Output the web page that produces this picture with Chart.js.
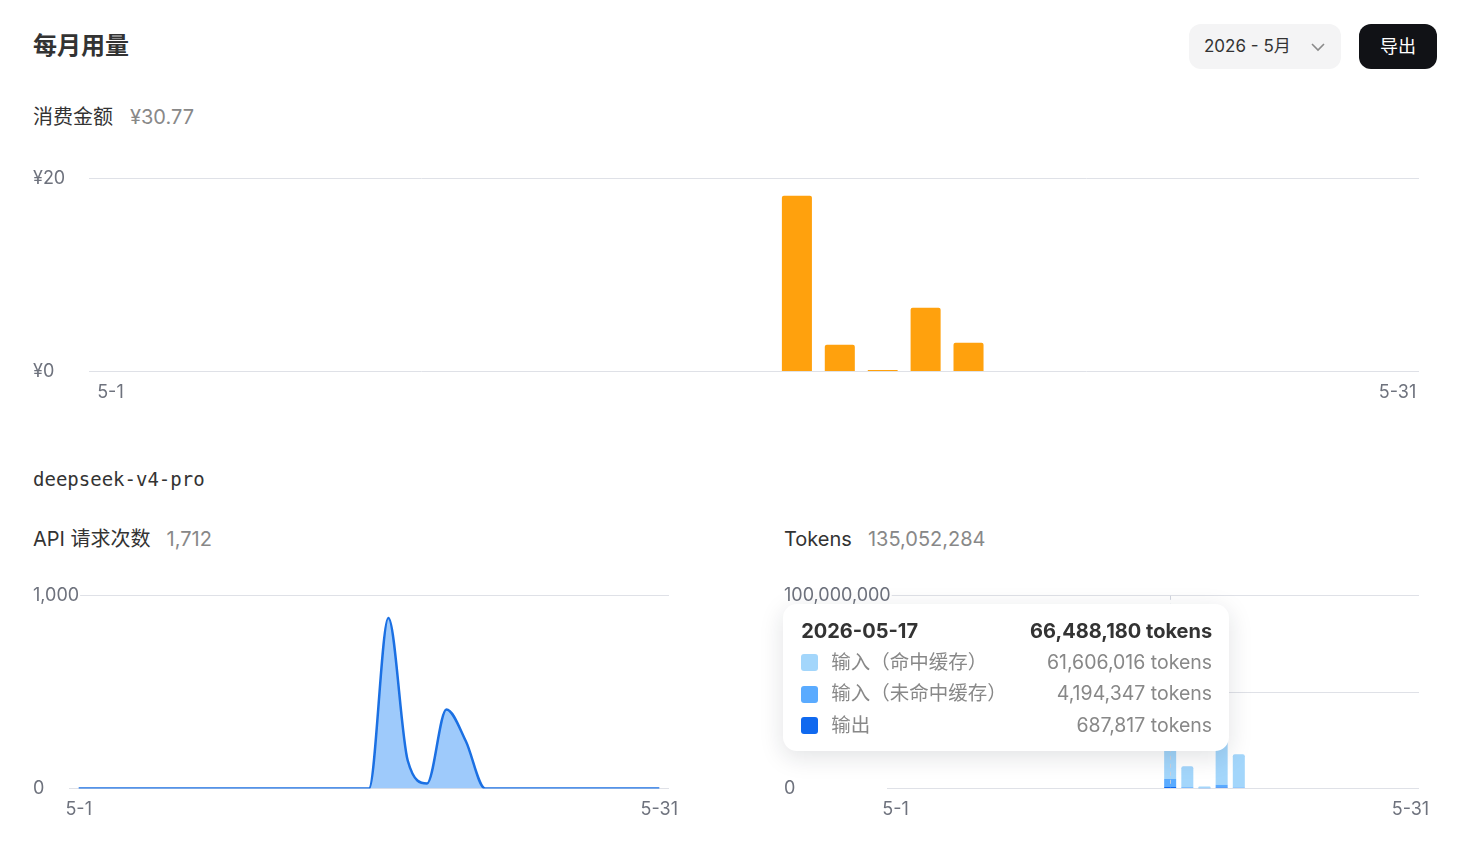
<!DOCTYPE html>
<html>
<head>
<meta charset="utf-8">
<script src="https://cdn.jsdelivr.net/npm/chart.js@4.4.0/dist/chart.umd.min.js"></script>
<style>
  body{margin:0;background:#fff;font-family:Inter,"Noto Sans CJK SC",sans-serif;color:#333;width:1459px;height:842px;overflow:hidden;position:relative}
  .abs{position:absolute;white-space:nowrap}
  .box{position:absolute}
  #tip{position:absolute;display:none;width:446px;box-sizing:border-box;padding:12px 17px 10px 18px;background:#fff;border-radius:14px;box-shadow:0 6px 24px rgba(20,30,50,0.13);z-index:10;font-family:Inter,"Noto Sans CJK SC",sans-serif}
  #tip .t{display:flex;justify-content:space-between;font-size:20px;font-weight:700;color:#333;line-height:31px}
  #tip .r{display:flex;justify-content:space-between;align-items:center;font-size:19.5px;color:#888;line-height:31.5px;height:31.5px}
  #tip .sw{display:inline-block;width:17px;height:17px;border-radius:3px;margin-right:13px;vertical-align:middle}
  #tip .lab{display:flex;align-items:center}
</style>
</head>
<body>
<div class="abs" style="left:33px;top:31px;font-size:24px;font-weight:700;line-height:30px;color:#333">每月用量</div>
<div class="abs" style="left:1189px;top:24px;width:152px;height:45px;background:#f4f4f5;border-radius:12px">
  <span style="position:absolute;left:15px;top:0;line-height:45px;font-size:17px;color:#333">2026 - 5月</span>
  <svg style="position:absolute;left:121px;top:17px" width="16" height="12" viewBox="0 0 16 12"><polyline points="2,3 8,9 14,3" fill="none" stroke="#8a8a8a" stroke-width="1.6"/></svg>
</div>
<div class="abs" style="left:1359px;top:24px;width:78px;height:45px;background:#111216;border-radius:12px;color:#fff;font-size:18px;line-height:45px;text-align:center">导出</div>

<div class="abs" style="left:33px;top:104px;line-height:26px;font-size:20px;color:#333">消费金额<span id="costTotal" style="margin-left:17px;color:#888"></span></div>
<div class="box" style="left:33px;top:168px;width:1406px;height:245px"><canvas id="costChart"></canvas></div>

<div class="abs" style="left:33px;top:466px;line-height:26px;font-size:19px;font-family:'DejaVu Sans Mono',monospace;color:#333">deepseek-v4-pro</div>

<div class="abs" style="left:33px;top:526px;line-height:26px;font-size:20px;color:#333">API 请求次数<span id="reqTotal" style="margin-left:16px;color:#888"></span></div>
<div class="box" style="left:33px;top:585px;width:656px;height:245px"><canvas id="reqChart"></canvas></div>

<div class="abs" style="left:784px;top:526px;line-height:26px;font-size:20px;color:#333">Tokens<span id="tokTotal" style="margin-left:16px;color:#888"></span></div>
<div class="box" style="left:784px;top:585px;width:665px;height:245px"><canvas id="tokChart"></canvas></div>
<div id="tip"></div>

<script>
// ---- data ----
const year = 2026;
const month = 5;
const days = ['5-1','5-2','5-3','5-4','5-5','5-6','5-7','5-8','5-9','5-10','5-11','5-12','5-13','5-14','5-15','5-16','5-17','5-18','5-19','5-20','5-21','5-22','5-23','5-24','5-25','5-26','5-27','5-28','5-29','5-30','5-31'];
const costValues = [0,0,0,0,0,0,0,0,0,0,0,0,0,0,0,0,18.25,2.78,0.14,6.62,2.98,0,0,0,0,0,0,0,0,0,0];
const requestValues = [0,0,0,0,0,0,0,0,0,0,0,0,0,0,0,0,885,145,26,410,246,0,0,0,0,0,0,0,0,0,0];
const outputTokens = [0,0,0,0,0,0,0,0,0,0,0,0,0,0,0,0,687817,150000,30000,460000,150000,0,0,0,0,0,0,0,0,0,0];
const missTokens   = [0,0,0,0,0,0,0,0,0,0,0,0,0,0,0,0,4194347,450000,70000,1400000,350000,0,0,0,0,0,0,0,0,0,0];
const hitTokens    = [0,0,0,0,0,0,0,0,0,0,0,0,0,0,0,0,61606016,10900000,900000,36500000,17204104,0,0,0,0,0,0,0,0,0,0];
const tokenSeriesNames = ['输出','输入（未命中缓存）','输入（命中缓存）'];
const tokenSeriesColors = ['#1069ef','#5aabff','#a3d6fb'];
const costTicks = [0, 20];
const reqTicks = [0, 1000];
const tokTicks = [0, 50000000, 100000000];
const activeDay = 16;

// ---- totals ----
const sum = a => a.reduce((s,v)=>s+v,0);
const fmt = v => v.toLocaleString('en-US');
document.getElementById('costTotal').textContent = '¥' + sum(costValues).toFixed(2);
document.getElementById('reqTotal').textContent = fmt(sum(requestValues));
document.getElementById('tokTotal').textContent = fmt(sum(outputTokens)+sum(missTokens)+sum(hitTokens));

// ---- common ----
Chart.defaults.font.family = 'Inter, "Noto Sans CJK SC", sans-serif';
Chart.defaults.animation = false;
const tickColor = '#6e727d';
const gridColor = '#dfe1e7';
const tickFont = {size:18};

function xAxis(){
  return {
    offset:true,
    grid:{display:false, drawTicks:false},
    border:{display:false},
    ticks:{autoSkip:false, maxRotation:0, minRotation:0, padding:10, color:tickColor, font:tickFont,
      callback:(v,i)=> (i===0 || i===days.length-1) ? days[i] : ''}
  };
}
function yAxis(tickVals, width, labelFn){
  return {
    min:tickVals[0], max:tickVals[tickVals.length-1],
    afterBuildTicks: s => { s.ticks = tickVals.map(v=>({value:v})); },
    afterFit: s => { s.width = width; s._computeLabelArea = () => undefined; },
    grid:{color:gridColor, drawTicks:false, lineWidth:1},
    border:{display:false},
    ticks:{color:tickColor, font:tickFont, crossAlign:'far', padding:0, callback:labelFn,
      showLabelBackdrop:true, backdropColor:'#ffffff', backdropPadding:{left:0, right:1, top:0, bottom:0}}
  };
}

// ---- cost chart ----
new Chart(document.getElementById('costChart'), {
  type:'bar',
  data:{labels:days, datasets:[{data:costValues, backgroundColor:'#ffa10d', hoverBackgroundColor:'#ffa10d', borderRadius:2, borderSkipped:'bottom', barPercentage:0.7, categoryPercentage:1}]},
  options:{
    responsive:true, maintainAspectRatio:false,
    layout:{padding:{right:20, left:0, top:0, bottom:0}},
    plugins:{legend:{display:false}, tooltip:{enabled:false}},
    scales:{x:xAxis(), y:yAxis(costTicks, 56, v=>'¥'+v)}
  }
});

// ---- request chart ----
new Chart(document.getElementById('reqChart'), {
  type:'line',
  data:{labels:days, datasets:[{data:requestValues, borderColor:'#1b70e3', borderWidth:2.5, backgroundColor:'rgba(120,182,250,0.72)', fill:'origin', pointRadius:0, cubicInterpolationMode:'monotone'}]},
  options:{
    responsive:true, maintainAspectRatio:false,
    layout:{padding:{right:20}},
    plugins:{legend:{display:false}, tooltip:{enabled:false}},
    scales:{x:xAxis(), y:yAxis(reqTicks, 36, v=>fmt(v))}
  }
});

// ---- token chart ----
function externalTip(context){
  const {chart, tooltip} = context;
  const el = document.getElementById('tip');
  if (!tooltip || tooltip.opacity === 0 || !tooltip.dataPoints || !tooltip.dataPoints.length){ el.style.display='none'; return; }
  const pts = tooltip.dataPoints.slice().sort((a,b)=>b.datasetIndex-a.datasetIndex);
  const idx = pts[0].dataIndex;
  const total = pts.reduce((s,p)=>s+p.raw,0);
  const date = year + '-' + String(month).padStart(2,'0') + '-' + String(idx+1).padStart(2,'0');
  let html = '<div class="t"><span>'+date+'</span><span>'+fmt(total)+' tokens</span></div>';
  pts.forEach(p=>{
    html += '<div class="r"><span class="lab"><span class="sw" style="background:'+tokenSeriesColors[p.datasetIndex]+'"></span>'+tokenSeriesNames[p.datasetIndex]+'</span><span>'+fmt(p.raw)+' tokens</span></div>';
  });
  el.innerHTML = html;
  const box = chart.canvas.parentNode;
  el.style.left = (box.offsetLeft + tooltip.caretX - 387) + 'px';
  el.style.top = (box.offsetTop + chart.chartArea.top + 8) + 'px';
  el.style.display = 'block';
}
const hoverLine = {
  id:'hoverLine',
  afterDatasetsDraw(chart){
    const a = chart.tooltip && chart.tooltip.getActiveElements();
    if (!a || !a.length) return;
    const x = a[0].element.x;
    const c = chart.ctx;
    c.save();
    c.setLineDash([4,4]);
    c.strokeStyle = 'rgba(205,210,220,0.9)';
    c.lineWidth = 1;
    c.beginPath();
    c.moveTo(Math.round(x)+0.5, chart.chartArea.top);
    c.lineTo(Math.round(x)+0.5, chart.chartArea.bottom);
    c.stroke();
    c.restore();
  }
};
const tokData = [outputTokens, missTokens, hitTokens];
const tokChart = new Chart(document.getElementById('tokChart'), {
  type:'bar',
  data:{labels:days, datasets: tokData.map((d,i)=>({
    label:tokenSeriesNames[i], data:d, backgroundColor:tokenSeriesColors[i], hoverBackgroundColor:tokenSeriesColors[i],
    borderRadius: i===2 ? 2 : 0, borderSkipped:'bottom', barPercentage:0.7, categoryPercentage:1, stack:'s'
  }))},
  options:{
    responsive:true, maintainAspectRatio:false,
    layout:{padding:{right:30}},
    interaction:{mode:'index', intersect:false},
    plugins:{legend:{display:false}, tooltip:{enabled:false, external:externalTip, mode:'index', intersect:false}},
    scales:{x:Object.assign(xAxis(),{stacked:true}), y:Object.assign(yAxis(tokTicks, 103, v=>fmt(v)),{stacked:true})}
  },
  plugins:[hoverLine]
});
const act = tokData.map((d,i)=>({datasetIndex:i, index:activeDay}));
tokChart.setActiveElements(act);
tokChart.tooltip.setActiveElements(act, {x:0, y:0});
tokChart.update();
</script>
</body>
</html>
